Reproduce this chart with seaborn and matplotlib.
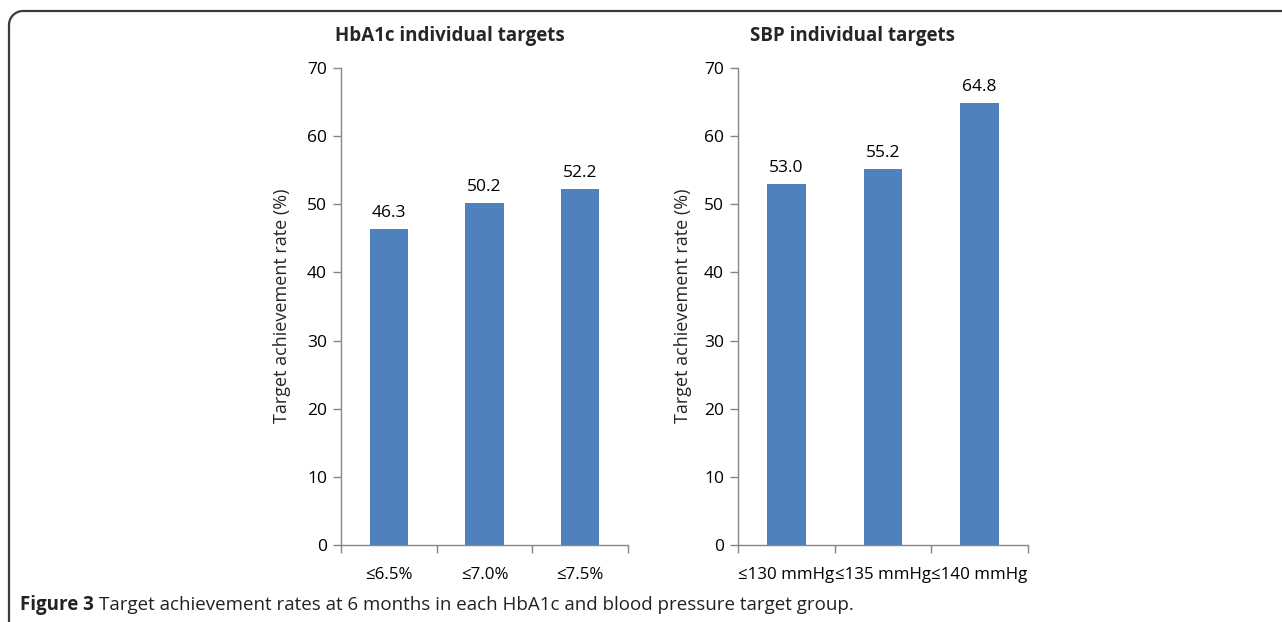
import numpy as np
import pandas as pd
import matplotlib
matplotlib.use("Agg")
import matplotlib.pyplot as plt
import seaborn as sns
from matplotlib.patches import Arc

hba1c_labels = ["≤6.5%", "≤7.0%", "≤7.5%"]
hba1c_values = [46.3, 50.2, 52.2]
sbp_labels = ["≤130 mmHg", "≤135 mmHg", "≤140 mmHg"]
sbp_values = [53.0, 55.2, 64.8]
titles = ["HbA1c individual targets", "SBP individual targets"]
ylabel = "Target achievement rate (%)"
yticks = [0, 10, 20, 30, 40, 50, 60, 70]
caption_head = "Figure 3"
caption_body = "Target achievement rates at 6 months in each HbA1c and blood pressure target group."

BAR = "#4F81BD"
GRID = "#868686"

sns.set_theme(style="white")
plt.rcParams["font.family"] = ["Open Sans", "DejaVu Sans"]

W, H = 1282, 622
fig = plt.figure(figsize=(W / 100, H / 100), dpi=100)

# frame with rounded corner, drawn in pixel coordinates
bg = fig.add_axes([0, 0, 1, 1])
bg.set_xlim(0, W)
bg.set_ylim(H, 0)
bg.axis("off")
r = 14
fc = "#3a3a3a"
bg.plot([9 + r, W + 5], [11, 11], color=fc, lw=1.6)
bg.plot([9, 9], [11 + r, H + 5], color=fc, lw=1.6)
bg.add_patch(Arc((9 + r, 11 + r), 2 * r, 2 * r, theta1=180, theta2=270, color=fc, lw=1.6))

def px_box(x0, x1, y0, y1):
    return [x0 / W, 1 - y1 / H, (x1 - x0) / W, (y1 - y0) / H]

panels = [
    (px_box(341, 628, 68, 545), hba1c_labels, hba1c_values, 282, 450),
    (px_box(738, 1028, 68, 545), sbp_labels, sbp_values, 683, 852),
]

for i, (box, labels, values, ylab_x, title_x) in enumerate(panels):
    ax = fig.add_axes(box)
    df = pd.DataFrame({"group": labels, "rate": values})
    sns.barplot(data=df, x="group", y="rate", color=BAR, width=0.4,
                saturation=1, ax=ax, edgecolor="none")
    ax.set_xlim(-0.5, 2.5)
    ax.set_ylim(0, 70)
    ax.set_yticks(yticks)
    ax.set_xlabel("")
    ax.set_ylabel("")
    for s in ["top", "right"]:
        ax.spines[s].set_visible(False)
    for s in ["left", "bottom"]:
        ax.spines[s].set_color(GRID)
        ax.spines[s].set_linewidth(1.0)
    ax.tick_params(axis="y", left=True, length=6, color=GRID, width=1.0,
                   labelsize=12.5, pad=4, labelcolor="black")
    ax.set_xticks([-0.5, 0.5, 1.5, 2.5], minor=True)
    ax.tick_params(axis="x", which="minor", bottom=True, length=6,
                   color=GRID, width=1.0)
    ax.tick_params(axis="x", which="major", bottom=False, labelsize=12.2,
                   pad=10, labelcolor="black")
    for j, v in enumerate(values):
        ax.text(j, v + 1.2, f"{v:.1f}", ha="center", va="bottom",
                fontsize=12.5, color="black")
    fig.text(title_x / W, 1 - 36 / H, titles[i], fontsize=13.5,
             fontweight="bold", ha="center", va="center")
    fig.text(ylab_x / W, 1 - 306 / H, ylabel, rotation=90, ha="center",
             va="center", fontsize=13)

# caption: bold head, then body placed right after it
cap_y = 1 - 605 / H
head = fig.text(20 / W, cap_y, caption_head, fontsize=13.5, fontweight="bold",
                color="#222222", va="center", ha="left")
fig.canvas.draw()
ext = head.get_window_extent()
fig.text((ext.x1 + 5) / W, cap_y, caption_body, fontsize=13.5,
         color="#222222", va="center", ha="left")

fig.savefig("out.png", dpi=100)
